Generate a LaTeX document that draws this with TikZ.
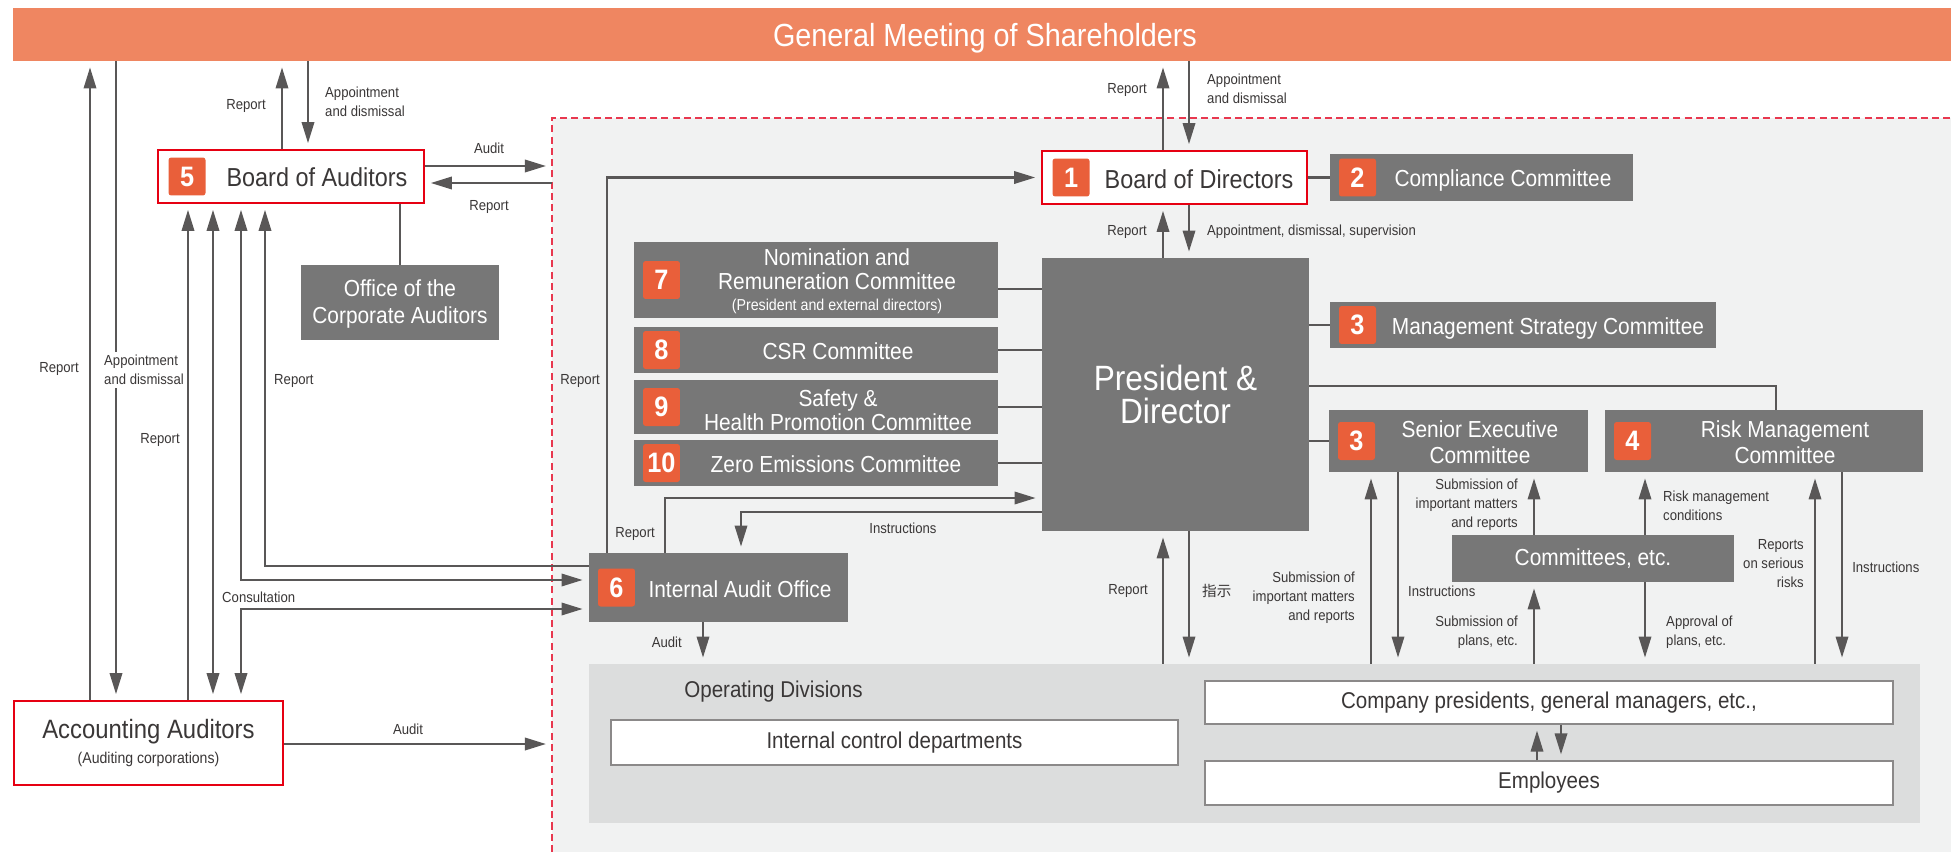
\documentclass[tikz,border=0pt]{standalone}
\usepackage{fontspec}
\setmainfont{Liberation Sans}[FakeStretch=0.9]
\newfontfamily\jpfont{Noto Sans CJK JP}
\usetikzlibrary{arrows.meta, positioning, fit}
\definecolor{barorange}{HTML}{EF8661}
\definecolor{badgeorange}{HTML}{E95F3A}
\definecolor{boxgray}{HTML}{777777}
\definecolor{linegray}{HTML}{595757}
\definecolor{panelgray}{HTML}{F1F2F2}
\definecolor{divgray}{HTML}{DCDDDD}
\definecolor{auditred}{HTML}{E60012}
\definecolor{dashred}{HTML}{E8384F}
\definecolor{inkgray}{HTML}{3A3737}
\tikzset{
  graybox/.style={fill=boxgray, inner sep=0pt},
  redbox/.style={draw=auditred, line width=0.9pt, fill=white, inner sep=0pt},
  whitebox/.style={draw=linegray!70, line width=0.6pt, fill=white, inner sep=0pt},
  badge/.style={fill=badgeorange, text=white, rounded corners=1.5pt, minimum width=0.74cm,
    minimum height=0.76cm, inner sep=0pt, font=\bfseries\fontsize{16}{16}\selectfont},
  boxtext/.style={text=white, inner sep=0pt, align=center, font=\fontsize{13.2}{13.7}\selectfont},
  redtext/.style={text=inkgray, inner sep=0pt, font=\fontsize{14.8}{16}\selectfont},
  divtext/.style={text=inkgray, inner sep=0pt, font=\fontsize{13}{15}\selectfont},
  lbl/.style={inner sep=0.5pt, text=inkgray, font=\fontsize{8.3}{10.8}\selectfont},
  link/.style={draw=linegray, line width=1.2pt},
  arr/.style={draw=linegray, line width=1.4pt, -{Triangle[length=12pt, width=7pt]}, shorten >=3.4pt},
  arrboth/.style={draw=linegray, line width=1.4pt,
    {Triangle[length=12pt, width=7pt]}-{Triangle[length=12pt, width=7pt]},
    shorten >=3.4pt, shorten <=3.4pt},
}

\begin{document}
\begin{tikzpicture}[x=0.02cm, y=-0.02cm]
  \useasboundingbox (0,0) rectangle (1951,852);
  \fill[white] (0,0) rectangle (1951,852);

  % area of internal control
  \fill[panelgray] (552,118) rectangle (1951,852);
  \draw[dashred, line width=1.1pt, dash pattern=on 4pt off 2.4pt] (552,852) -- (552,118) -- (1951,118);

  \node[fill=barorange, inner sep=0pt, fit={(13,8) (1951,61)}] (gms) {};
  \node[text=white, inner sep=0pt, font=\fontsize{18.2}{20}\selectfont] (gmst) at (985,38) {General Meeting of Shareholders};

  % auditors
  \node[redbox, fit={(158,150) (424,203)}] (boa) {};
  \node[badge, right=0.22cm of boa.west] (n5) {5};
  \node[redtext] (t5) at (317,177) {Board of Auditors};
  \node[graybox, fit={(301,265) (499,340)}] (oca) {};
  \node[boxtext, font=\fontsize{13.2}{15.2}\selectfont] (toca) at (400,304) {Office of the\\Corporate Auditors};
  \node[redbox, fit={(14,701) (283,785)}] (acc) {};
  \node[redtext, align=center, font=\fontsize{15.1}{14.5}\selectfont] (tacc) at (acc.center)
    {Accounting Auditors\\{\fontsize{8.9}{10}\selectfont(Auditing corporations)}};

  % directors and committees
  \node[redbox, fit={(1042,151) (1307,204)}] (bod) {};
  \node[badge, right=0.22cm of bod.west] (n1) {1};
  \node[redtext] (t1) at (1199,179) {Board of Directors};
  \node[graybox, fit={(1330,154) (1633,201)}] (cc) {};
  \node[badge, right=0.18cm of cc.west] (n2) {2};
  \node[boxtext] (t2) at (1503,181) {Compliance Committee};
  \node[graybox, fit={(1042,258) (1309,531)}] (pres) {};
  \node[boxtext, font=\fontsize{20}{19}\selectfont] (tpres) at (pres.center) {President \&\\Director};

  \foreach \n/\ya/\yb in {7/242/318, 8/327/373, 9/380/434, 10/440/486} {
    \node[graybox, fit={(634,\ya) (998,\yb)}] (c\n) {};
    \node[badge, right=0.18cm of c\n.west] (n\n) {\n};
  }
  \node[boxtext] (t7) at (837,281) {Nomination and\\Remuneration Committee\\[-1.5pt]
    {\fontsize{9}{10}\selectfont (President and external directors)}};
  \node[boxtext] (t8) at (838,351) {CSR Committee};
  \node[boxtext] (t9) at (838,410) {Safety \&\\Health Promotion Committee};
  \node[boxtext] (t10) at (836,464) {Zero Emissions Committee};

  \node[graybox, fit={(1330,302) (1716,348)}] (msc) {};
  \node[badge, right=0.18cm of msc.west] (n3a) {3};
  \node[boxtext] (t3a) at (1548,329) {Management Strategy Committee};
  \node[graybox, fit={(1329,410) (1588,472)}] (sec) {};
  \node[badge, right=0.18cm of sec.west] (n3b) {3};
  \node[boxtext, font=\fontsize{13.2}{14.8}\selectfont] (t3b) at (1480,442) {Senior Executive\\Committee};
  \node[graybox, fit={(1605,410) (1923,472)}] (rmc) {};
  \node[badge, right=0.18cm of rmc.west] (n4) {4};
  \node[boxtext, font=\fontsize{13.2}{14.8}\selectfont] (t4) at (1785,442) {Risk Management\\Committee};
  \node[graybox, fit={(1452,535) (1734,582)}] (cmt) {};
  \node[boxtext] (tcmt) at (cmt.center) {Committees, etc.};

  \node[graybox, fit={(589,553) (848,622)}] (iao) {};
  \node[badge, right=0.18cm of iao.west] (n6) {6};
  \node[boxtext] (t6) at (740,589) {Internal Audit Office};

  % operating divisions
  \node[fill=divgray, inner sep=0pt, fit={(589,664) (1920,823)}] (opdiv) {};
  \node[divtext, anchor=west] (topdiv) at (684,692) {Operating Divisions};
  \node[whitebox, fit={(611,720) (1178,765)}] (icd) {};
  \node[divtext] (ticd) at (icd.center) {Internal control departments};
  \node[whitebox, fit={(1205,681) (1893,724)}] (cpg) {};
  \node[divtext] (tcpg) at (cpg.center) {Company presidents, general managers, etc.,};
  \node[whitebox, fit={(1205,761) (1893,805)}] (emp) {};
  \node[divtext] (temp) at (emp.center) {Employees};

  % free ends on the dashed border
  \coordinate (da) at (552,166);
  \coordinate (dr) at (552,183);
  \coordinate (dacc) at (552,744);

  % to and from the shareholders
  \draw[arr] (90,0 |- acc.north) -- (90,0 |- gms.south);
  \draw[arr] (116,0 |- gms.south) -- (116,0 |- acc.north);
  \draw[arr] (282,0 |- boa.north) -- (282,0 |- gms.south);
  \draw[arr] (308,0 |- gms.south) -- (308,0 |- boa.north);
  \draw[arr] (1163,0 |- bod.north) -- (1163,0 |- gms.south);
  \draw[arr] (1189,0 |- gms.south) -- (1189,0 |- bod.north);

  % auditors
  \draw[arr] (188,0 |- acc.north) -- (188,0 |- boa.south);
  \draw[arrboth] (213,0 |- acc.north) -- (213,0 |- boa.south);
  \draw[arrboth] (241,0 |- boa.south) |- (iao.west |- 0,580);
  \draw[arr] (iao.west |- 0,566) -| (265,0 |- boa.south);
  \draw[arrboth] (241,0 |- acc.north) |- (iao.west |- 0,609);
  \draw[link] (400,0 |- boa.south) -- (400,0 |- oca.north);
  \draw[arr] (boa.east |- da) -- (da);
  \draw[arr] (dr) -- (boa.east |- dr);
  \draw[arr] (acc.east |- dacc) -- (dacc);

  % president, directors, internal audit
  \draw[arr] (607,0 |- iao.north) |- (bod.west);
  \draw[arr] (665,0 |- iao.north) |- (pres.west |- 0,498);
  \draw[arr] (pres.west |- 0,512) -| (741,0 |- iao.north);
  \draw[arr] (703,0 |- iao.south) -- (703,0 |- opdiv.north);
  \draw[arr] (1163,0 |- pres.north) -- (1163,0 |- bod.south);
  \draw[arr] (1189,0 |- bod.south) -- (1189,0 |- pres.north);
  \draw[arr] (1163,0 |- opdiv.north) -- (1163,0 |- pres.south);
  \draw[arr] (1189,0 |- pres.south) -- (1189,0 |- opdiv.north);
  \draw[link] (bod.east) -- (cc.west);
  \foreach \c/\y in {c7/289, c8/350, c9/407, c10/463}
    \draw[link] (\c.east |- 0,\y) -- (pres.west |- 0,\y);
  \draw[link] (pres.east |- msc.west) -- (msc.west);
  \draw[link] (pres.east |- sec.west) -- (sec.west);
  \draw[link] (pres.east |- 0,386) -| (1776,0 |- rmc.north);

  % committees and operating divisions
  \foreach \x/\from/\to in {1371/opdiv.north/sec.south, 1398/sec.south/opdiv.north,
      1534/cmt.north/sec.south, 1534/opdiv.north/cmt.south, 1645/cmt.north/rmc.south,
      1645/cmt.south/opdiv.north, 1815/opdiv.north/rmc.south, 1842/rmc.south/opdiv.north,
      1537/emp.north/cpg.south, 1561/cpg.south/emp.north}
    \draw[arr] (\x,0 |- \from) -- (\x,0 |- \to);

  % labels
  \node[lbl, anchor=east] (l1) at (80,369) {Report};
  \node[lbl, anchor=west, align=left, fill=white, inner ysep=2pt] (l2) at (103,370) {Appointment\\and dismissal};
  \node[lbl, anchor=east] (l3) at (181,440) {Report};
  \node[lbl, anchor=west] (l4) at (273,381) {Report};
  \node[lbl, anchor=west] (l5) at (221,597) {Consultation};
  \node[lbl] (l6) at (408,729) {Audit};
  \node[lbl, anchor=east] (l7) at (267,106) {Report};
  \node[lbl, anchor=west, align=left] (l8) at (324,102) {Appointment\\and dismissal};
  \node[lbl] (l9) at (489,148) {Audit};
  \node[lbl] (l10) at (489,207) {Report};
  \node[lbl, anchor=east] (l11) at (601,381) {Report};
  \node[lbl, anchor=east] (l12) at (1148,90) {Report};
  \node[lbl, anchor=west, align=left] (l13) at (1206,89) {Appointment\\and dismissal};
  \node[lbl, anchor=east] (l14) at (1148,232) {Report};
  \node[lbl, anchor=west] (l15) at (1206,232) {Appointment, dismissal, supervision};
  \node[lbl, anchor=east] (l16) at (656,534) {Report};
  \node[lbl] (l17) at (903,528) {Instructions};
  \node[lbl, anchor=east] (l18) at (683,642) {Audit};
  \node[lbl, anchor=east] (l19) at (1149,591) {Report};
  \node[lbl, anchor=west] (l20) at (1201,591) {\jpfont 指示};
  \node[lbl, anchor=east, align=right] (l21) at (1356,598) {Submission of\\important matters\\and reports};
  \node[lbl, anchor=west] (l22) at (1407,591) {Instructions};
  \node[lbl, anchor=east, align=right] (l23) at (1519,505) {Submission of\\important matters\\and reports};
  \node[lbl, anchor=east, align=right] (l24) at (1519,632) {Submission of\\plans, etc.};
  \node[lbl, anchor=west, align=left] (l25) at (1662,506) {Risk management\\conditions};
  \node[lbl, anchor=west, align=left] (l26) at (1665,632) {Approval of\\plans, etc.};
  \node[lbl, anchor=east, align=right] (l27) at (1805,564) {Reports\\on serious\\risks};
  \node[lbl, anchor=west] (l28) at (1851,567) {Instructions};
\end{tikzpicture}
\end{document}
